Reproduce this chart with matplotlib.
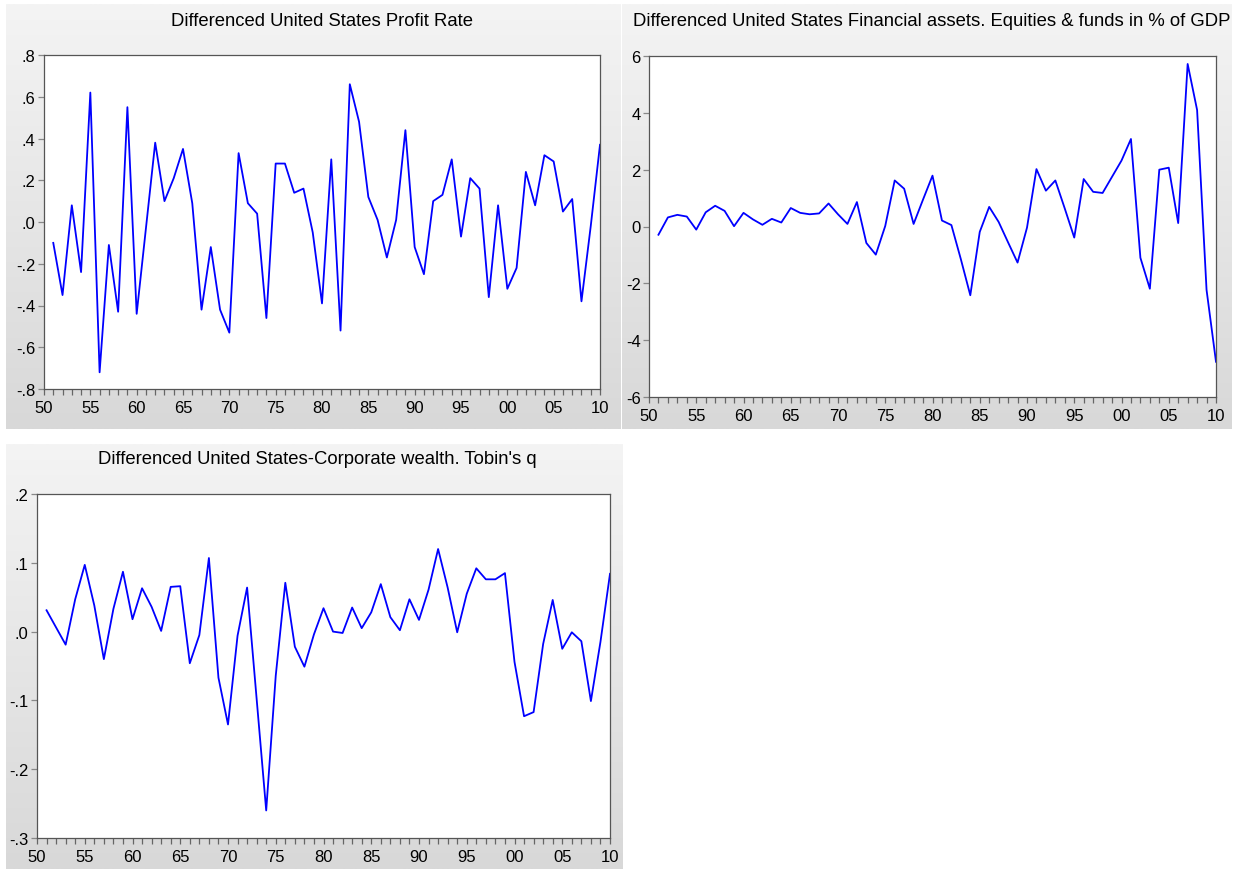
import numpy as np
import matplotlib
matplotlib.use('Agg')
import matplotlib.pyplot as plt
from matplotlib.colors import LinearSegmentedColormap
from matplotlib.ticker import FuncFormatter, MultipleLocator

plt.rcParams['font.family'] = ['Liberation Sans', 'DejaVu Sans']

years = list(range(1951, 2011))

# Differenced United States Profit Rate
profit_rate = [
    -0.10, -0.35, 0.08, -0.24, 0.62, -0.72, -0.11, -0.43, 0.55, -0.44,
    -0.03, 0.38, 0.10, 0.21, 0.35, 0.09, -0.42, -0.12, -0.42, -0.53,
    0.33, 0.09, 0.04, -0.46, 0.28, 0.28, 0.14, 0.16, -0.05, -0.39,
    0.30, -0.52, 0.66, 0.48, 0.12, 0.01, -0.17, 0.01, 0.44, -0.12,
    -0.25, 0.10, 0.13, 0.30, -0.07, 0.21, 0.16, -0.36, 0.08, -0.32,
    -0.22, 0.24, 0.08, 0.32, 0.29, 0.05, 0.11, -0.38, -0.02, 0.37,
]

# Differenced United States Financial assets, equities & funds (% of GDP)
fin_assets = [
    -0.29, 0.32, 0.41, 0.35, -0.11, 0.50, 0.73, 0.55, 0.01, 0.48,
    0.25, 0.06, 0.27, 0.14, 0.65, 0.48, 0.43, 0.46, 0.81, 0.43,
    0.09, 0.86, -0.58, -0.99, 0.02, 1.62, 1.33, 0.09, 0.95, 1.79,
    0.21, 0.05, -1.15, -2.42, -0.19, 0.69, 0.16, -0.56, -1.27, -0.04,
    2.02, 1.26, 1.62, 0.63, -0.39, 1.67, 1.22, 1.18, 1.75, 2.32,
    3.08, -1.10, -2.19, 2.00, 2.07, 0.12, 5.72, 4.10, -2.23, -4.76,
]

# Differenced United States-Corporate wealth, Tobin's q
tobins_q = [
    0.031, 0.006, -0.019, 0.047, 0.097, 0.038, -0.040, 0.033, 0.087, 0.018,
    0.063, 0.036, 0.001, 0.065, 0.066, -0.046, -0.005, 0.107, -0.067, -0.135,
    -0.006, 0.064, -0.098, -0.260, -0.064, 0.071, -0.022, -0.051, -0.004, 0.034,
    0.000, -0.002, 0.035, 0.005, 0.028, 0.069, 0.021, 0.002, 0.047, 0.017,
    0.061, 0.120, 0.064, -0.001, 0.055, 0.092, 0.076, 0.076, 0.085, -0.044,
    -0.123, -0.117, -0.018, 0.046, -0.025, -0.001, -0.014, -0.101, -0.015, 0.084,
]

W, H = 1241, 870
fig = plt.figure(figsize=(W / 100, H / 100), dpi=100)
fig.patch.set_facecolor('white')

grad = LinearSegmentedColormap.from_list('panel', ['#f4f4f4', '#d8d8d8'])


def px_rect(x0, y0, x1, y1):
    return [x0 / W, 1 - y1 / H, (x1 - x0) / W, (y1 - y0) / H]


def dot_fmt(v, pos):
    s = '%.1f' % v
    if s.startswith('-0'):
        return '-' + s[2:]
    if s.startswith('0'):
        return s[1:]
    return s


def panel(bg, box, title, title_xy, yvals, ylim, ystep, yfmt):
    # gray gradient background panel
    bax = fig.add_axes(px_rect(*bg), zorder=0)
    bax.imshow(np.linspace(0, 1, 256).reshape(-1, 1), aspect='auto', cmap=grad,
               extent=[0, 1, 0, 1])
    bax.set_axis_off()

    ax = fig.add_axes(px_rect(*box), zorder=1)
    ax.set_facecolor('white')
    ax.plot(years, yvals, color='#0000ff', lw=1.3)
    ax.set_xlim(1950, 2010)
    ax.set_ylim(*ylim)
    ax.xaxis.set_major_locator(MultipleLocator(5))
    ax.xaxis.set_minor_locator(MultipleLocator(1))
    ax.xaxis.set_major_formatter(FuncFormatter(lambda v, p: '%02d' % (int(round(v)) % 100)))
    ax.yaxis.set_major_locator(MultipleLocator(ystep))
    ax.yaxis.set_major_formatter(FuncFormatter(yfmt))
    ax.tick_params(axis='x', which='both', direction='out', length=4, width=0.9,
                   color='#666666', labelsize=12, pad=4)
    ax.tick_params(axis='y', which='major', direction='out', length=4, width=0.9,
                   color='#888888', labelsize=12, pad=2)
    for s in ax.spines.values():
        s.set_color('#555555')
        s.set_linewidth(0.9)
    fig.text(title_xy[0] / W, 1 - title_xy[1] / H, title, ha='center', va='center',
             fontsize=13.3)
    return ax


panel((6, 5, 621, 430), (44, 56, 600, 390),
      'Differenced United States Profit Rate', (322, 21),
      profit_rate, (-0.8, 0.8), 0.2, dot_fmt)

panel((622, 5, 1232, 430), (649, 57, 1216, 398),
      'Differenced United States Financial assets. Equities & funds in % of GDP', (932, 21),
      fin_assets, (-6, 6), 2, lambda v, p: '%d' % int(round(v)))

panel((6, 445, 623, 870), (37, 495, 610, 839),
      "Differenced United States-Corporate wealth. Tobin's q", (317, 460),
      tobins_q, (-0.3, 0.2), 0.1, dot_fmt)

fig.savefig('out.png', dpi=100)
